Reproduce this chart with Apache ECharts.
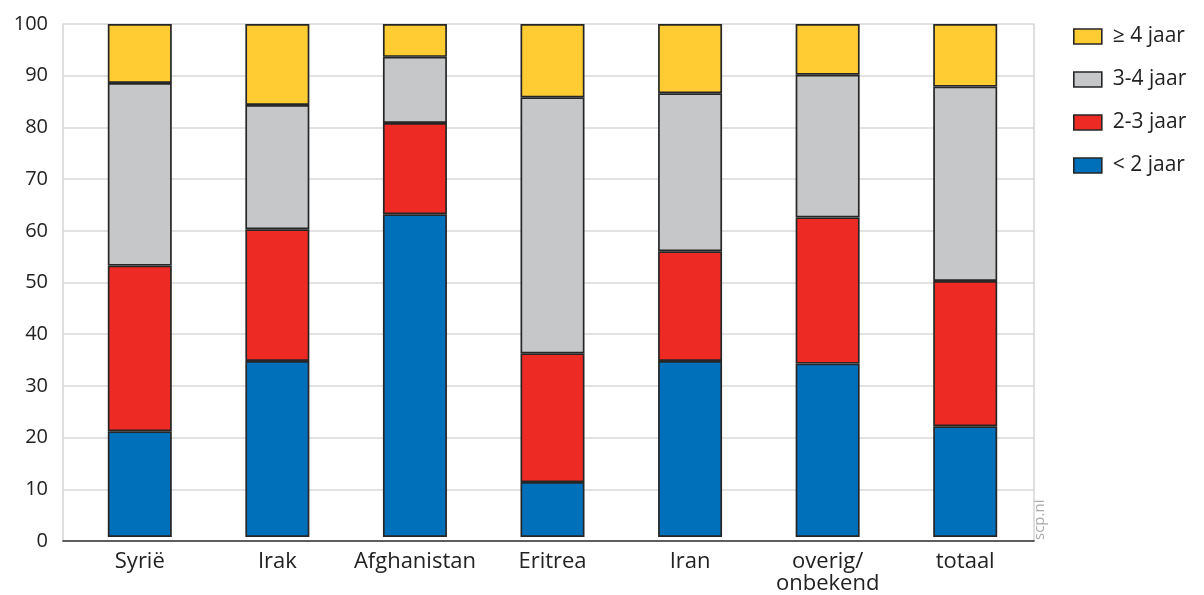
<!DOCTYPE html>
<html>
<head>
<meta charset="utf-8">
<script src="https://cdn.jsdelivr.net/npm/echarts@6/dist/echarts.min.js"></script>
<style>html,body{margin:0;padding:0;background:#fff}#c{width:1204px;height:595px}</style>
</head>
<body>
<div id="c"></div>
<script>
const categories = ['Syrië', 'Irak', 'Afghanistan', 'Eritrea', 'Iran', 'overig/\nonbekend', 'totaal'];
const lt2 = [20.6, 34.3, 62.9, 10.7, 34.3, 33.8, 21.6];
const y2to3 = [32.3, 25.7, 17.8, 25.1, 21.4, 28.5, 28.3];
const y3to4 = [35.6, 24.2, 12.9, 49.9, 30.8, 27.8, 37.9];
const ge4 = [11.5, 15.8, 6.4, 14.3, 13.5, 9.9, 12.2];
const yTicks = [0, 10, 20, 30, 40, 50, 60, 70, 80, 90, 100];

const font = '"Open Sans", Lato, sans-serif';
const chart = echarts.init(document.getElementById('c'));
const mk = (name, data, color) => ({
  name, type: 'bar', stack: 'a', data, barWidth: 64,
  xAxisIndex: 1, yAxisIndex: 2,
  itemStyle: { color, borderColor: '#262626', borderWidth: 1.7 },
  emphasis: { disabled: true }
});
chart.setOption({
  animation: false,
  textStyle: { fontFamily: font },
  grid: [
    { left: 63, right: 170, top: 24, bottom: 54, containLabel: false },
    { left: 71, right: 170, top: 24, bottom: 54, containLabel: false }
  ],
  legend: {
    orient: 'vertical', left: 1068, top: 21, itemGap: 22, itemWidth: 28, itemHeight: 15,
    icon: 'rect',
    textStyle: { fontSize: 21, color: '#222', fontFamily: font, padding: [0, 0, 0, 6] },
    data: ['≥ 4 jaar', '3-4 jaar', '2-3 jaar', '< 2 jaar'],
    itemStyle: { borderColor: '#262626', borderWidth: 1.6 },
    selectedMode: false
  },
  xAxis: [{
    gridIndex: 0, type: 'value', min: 0, max: 1,
    axisLine: { show: true, onZero: false, lineStyle: { color: '#333', width: 1.6 } },
    axisTick: { show: false }, axisLabel: { show: false }, splitLine: { show: false }
  }, {
    gridIndex: 1, type: 'category', data: categories,
    axisLine: { show: false }, axisTick: { show: false },
    axisLabel: { fontSize: 22, color: '#222', margin: 14, lineHeight: 22, interval: 0 }
  }],
  yAxis: [{
    gridIndex: 0, type: 'value', min: 0, max: 100, interval: 10,
    axisLine: { show: true, onZero: false, lineStyle: { color: '#d4d4d4', width: 1.5 } },
    axisTick: { show: false },
    splitLine: { lineStyle: { color: '#d9d9d9', width: 1.5 } },
    axisLabel: { fontSize: 20, color: '#222', margin: 15, formatter: v => yTicks.includes(v) ? String(v) : '' }
  }, {
    gridIndex: 0, type: 'value', min: 0, max: 100, interval: 10, position: 'right',
    axisLine: { show: true, onZero: false, lineStyle: { color: '#d4d4d4', width: 1.5 } },
    axisTick: { show: false }, axisLabel: { show: false }, splitLine: { show: false }
  }, {
    gridIndex: 1, type: 'value', min: 0, max: 100, show: false
  }],
  series: [
    mk('< 2 jaar', lt2, '#0070BA'),
    mk('2-3 jaar', y2to3, '#EE2A24'),
    mk('3-4 jaar', y3to4, '#C6C7C9'),
    mk('≥ 4 jaar', ge4, '#FFCC33')
  ],
  graphic: [{
    type: 'text', x: 1047, y: 540, rotation: Math.PI / 2,
    style: { text: 'scp.nl', fill: '#aaa', fontSize: 15, fontFamily: font, textAlign: 'left', textVerticalAlign: 'bottom' }
  }]
});
</script>
</body>
</html>
